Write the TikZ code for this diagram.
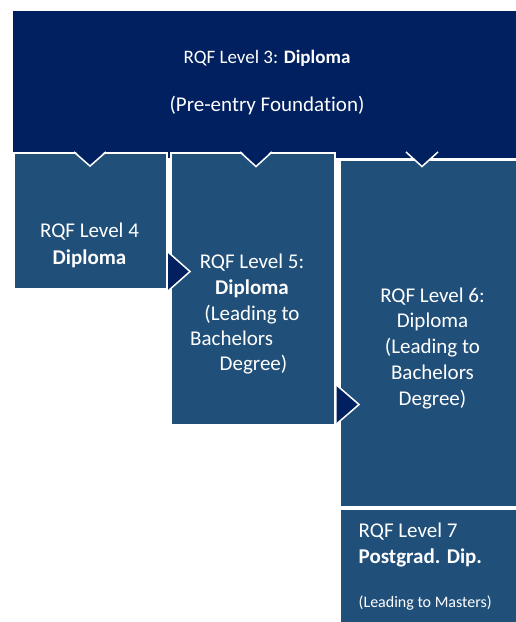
\documentclass[tikz,border=0pt]{standalone}
\usepackage{fontspec}
\setmainfont[Ligatures=NoCommon]{Carlito}
\definecolor{navy}{RGB}{0,32,96}
\definecolor{steel}{RGB}{32,79,121}
\begin{document}
\begin{tikzpicture}[x=1pt,y=-1pt,
  box/.style={draw=white, line width=1.5pt, fill=steel, inner sep=0pt, anchor=north west},
  topbox/.style={fill=navy, inner sep=0pt, anchor=north west},
  lbl/.style={text=white, anchor=base, inner sep=0pt, font=\fontsize{21}{25}\selectfont},
  lblw/.style={lbl, anchor=base west},
  small/.style={font=\fontsize{19}{23}\selectfont},
  tiny/.style={font=\fontsize{16}{19}\selectfont},
  notch/.style={fill=navy},
  notchline/.style={draw=white, line width=1.5pt, line join=miter}]
\useasboundingbox (0,0) rectangle (516,622);
\fill[white] (0,0) rectangle (516,622);
% boxes
\node[topbox, minimum width=503.5pt, minimum height=147pt] (l3) at (12.7,10.5) {};
\node[box, minimum width=153pt, minimum height=136pt] (l4) at (13,152) {};
\node[box, minimum width=164pt, minimum height=272pt] (l5) at (170,152) {};
\node[box, minimum width=180pt, minimum height=347pt] (l6) at (339,159) {};
\node[box, minimum width=180pt, minimum height=118pt] (l7) at (339,508) {};
% down notches
\fill[notch] (74,150) -- (90,166) -- (106,150) -- cycle;
\draw[notchline] (74,152) -- (90,166) -- (106,152);
\fill[notch] (240,150) -- (256,166.5) -- (272,150) -- cycle;
\draw[notchline] (240,152) -- (256,166.5) -- (272,152);
\fill[notch] (406,150) -- (422,166.5) -- (438,150) -- cycle;
\draw[notchline] (406,152) -- (422,166.5) -- (438,152);
% right notches
\fill[notch] (168,252) -- (190,271.5) -- (168,291) -- cycle;
\draw[notchline] (168,252) -- (190,271.5) -- (168,291);
\fill[notch] (336.5,385) -- (359,404.5) -- (336.5,424) -- cycle;
\draw[notchline] (336.5,385) -- (359,404.5) -- (336.5,424);
% level 3 text
\node[lbl, small] (t3a) at (267,63) {RQF Level 3: \textbf{Diploma}};
\node[lbl] (t3b) at (267,111) {(Pre-entry Foundation)};
% level 4 text
\node[lbl] (t4a) at (89.5,237) {RQF Level 4};
\node[lbl] (t4b) at (89.5,264) {\textbf{Diploma}};
% level 5 text
\node[lbl] (t5a) at (252,268) {RQF Level 5:};
\node[lbl] (t5b) at (252,294) {\textbf{Diploma}};
\node[lbl] (t5c) at (252,320) {(Leading to};
\node[lblw] (t5d) at (190,345) {Bachelors};
\node[lblw] (t5e) at (219.5,370.5) {Degree)};
% level 6 text
\node[lbl] (t6a) at (432.5,302) {RQF Level 6:};
\node[lbl] (t6b) at (432.5,327.5) {Diploma};
\node[lbl] (t6c) at (432.5,353) {(Leading to};
\node[lbl] (t6d) at (432.5,379) {Bachelors};
\node[lbl] (t6e) at (432.5,405) {Degree)};
% level 7 text
\node[lblw] (t7a) at (358.5,537) {RQF Level 7};
\node[lblw] (t7b) at (358.5,563) {\textbf{Postgrad. Dip.}};
\node[lblw, tiny] (t7c) at (358.5,607) {(Leading to Masters)};
\end{tikzpicture}
\end{document}
